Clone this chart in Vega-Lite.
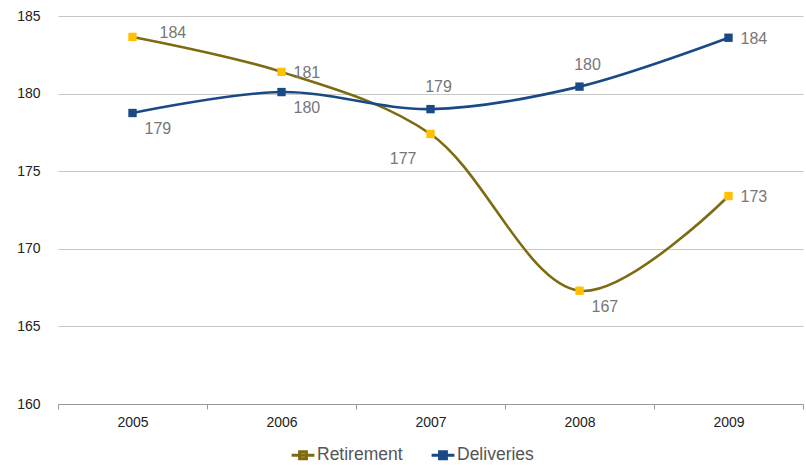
{
  "$schema": "https://vega.github.io/schema/vega-lite/v6.json",
  "width": 745,
  "height": 388,
  "autosize": {"type": "none"},
  "padding": {"left": 58, "top": 16, "right": 3, "bottom": 61},
  "background": "white",
  "config": {
    "view": {"stroke": null},
    "font": "Liberation Sans"
  },
  "data": {
    "values": [
      {"year": "2005", "series": "Retirement", "value": 183.65, "label": "184", "place": "rightup"},
      {"year": "2006", "series": "Retirement", "value": 181.4, "label": "181", "place": "right"},
      {"year": "2007", "series": "Retirement", "value": 177.4, "label": "177", "place": "leftbelow"},
      {"year": "2008", "series": "Retirement", "value": 167.3, "label": "167", "place": "rightbelow"},
      {"year": "2009", "series": "Retirement", "value": 173.4, "label": "173", "place": "right"},
      {"year": "2005", "series": "Deliveries", "value": 178.75, "label": "179", "place": "rightbelow"},
      {"year": "2006", "series": "Deliveries", "value": 180.1, "label": "180", "place": "rightbelow"},
      {"year": "2007", "series": "Deliveries", "value": 179.0, "label": "179", "place": "above"},
      {"year": "2008", "series": "Deliveries", "value": 180.45, "label": "180", "place": "above"},
      {"year": "2009", "series": "Deliveries", "value": 183.6, "label": "184", "place": "right"}
    ]
  },
  "encoding": {
    "x": {
      "field": "year", "type": "ordinal",
      "scale": {"type": "band", "paddingInner": 0, "paddingOuter": 0},
      "axis": {
        "title": null, "labelAngle": 0, "labelFontSize": 14, "labelColor": "#222222",
        "labelPadding": 6, "domainColor": "#999999", "tickColor": "#999999",
        "tickBand": "extent", "tickSize": 5, "grid": false
      }
    },
    "y": {
      "field": "value", "type": "quantitative",
      "scale": {"domain": [160, 185], "nice": false, "zero": false},
      "axis": {
        "title": null, "values": [160, 165, 170, 175, 180, 185], "labelFontSize": 14,
        "labelColor": "#222222", "domain": false, "ticks": false, "labelPadding": 18,
        "gridColor": "#C8C8C8", "gridWidth": 1.2
      }
    }
  },
  "layer": [
    {
      "mark": {"type": "line", "interpolate": "catmull-rom", "strokeWidth": 2.6},
      "encoding": {
        "color": {
          "field": "series", "type": "nominal",
          "scale": {"domain": ["Retirement", "Deliveries"], "range": ["#7D6B12", "#1A4A85"]},
          "legend": {
            "orient": "none", "legendX": 232, "legendY": 426,
            "direction": "horizontal", "title": null,
            "labelFontSize": 17.5, "labelColor": "#555555",
            "symbolType": "M-1,0H1M-0.3,-0.3H0.3V0.3H-0.3Z", "symbolSize": 520,
            "symbolStrokeWidth": 3, "labelOffset": 1, "columnPadding": 22,
            "encode": {
              "symbols": {"update": {"fill": {"signal": "datum.value === 'Retirement' ? '#FFC000' : '#1A4A85'"}}}
            }
          }
        }
      }
    },
    {
      "mark": {"type": "square", "size": 70, "opacity": 1, "filled": true},
      "encoding": {
        "fill": {
          "field": "series", "type": "nominal",
          "scale": {"domain": ["Retirement", "Deliveries"], "range": ["#FFC000", "#1A4A85"]},
          "legend": null
        }
      }
    },
    {
      "transform": [{"filter": "datum.place === 'right'"}],
      "mark": {"type": "text", "align": "left", "dx": 12, "dy": 1, "fontSize": 16, "color": "#777777"},
      "encoding": {"text": {"field": "label"}}
    },
    {
      "transform": [{"filter": "datum.place === 'rightup'"}],
      "mark": {"type": "text", "align": "left", "dx": 27, "dy": -4, "fontSize": 16, "color": "#777777"},
      "encoding": {"text": {"field": "label"}}
    },
    {
      "transform": [{"filter": "datum.place === 'rightbelow'"}],
      "mark": {"type": "text", "align": "left", "dx": 12, "dy": 16, "fontSize": 16, "color": "#777777"},
      "encoding": {"text": {"field": "label"}}
    },
    {
      "transform": [{"filter": "datum.place === 'leftbelow'"}],
      "mark": {"type": "text", "align": "right", "dx": -14, "dy": 25, "fontSize": 16, "color": "#777777"},
      "encoding": {"text": {"field": "label"}}
    },
    {
      "transform": [{"filter": "datum.place === 'above'"}],
      "mark": {"type": "text", "align": "center", "dx": 8, "dy": -22, "fontSize": 16, "color": "#777777"},
      "encoding": {"text": {"field": "label"}}
    }
  ]
}
